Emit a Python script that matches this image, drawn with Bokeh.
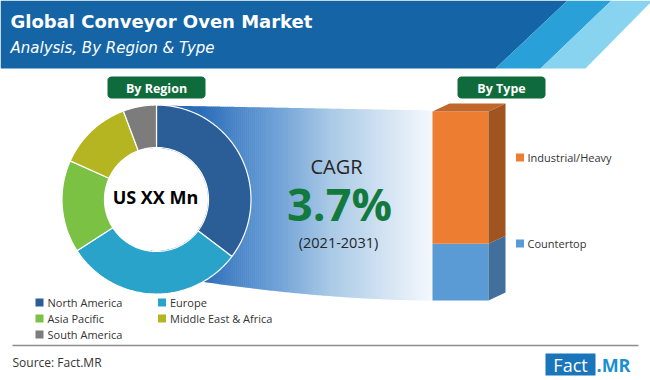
import numpy as np
from bokeh.plotting import figure
from bokeh.models import Range1d
from bokeh.core.properties import value
from bokeh.embed import file_html
from bokeh.resources import INLINE

# ---------------- data ----------------
TITLE = "Global Conveyor Oven Market"
SUBTITLE = "Analysis, By Region & Type"
CENTER_LABEL = "US XX Mn"
CAGR_LABEL = "CAGR"
CAGR_VALUE = "3.7%"
CAGR_PERIOD = "(2021-2031)"
SOURCE = "Source: Fact.MR"

regions = ["North America", "Europe", "Asia Pacific", "Middle East & Africa", "South America"]
region_share = [35.3, 30.6, 15.8, 12.6, 5.7]
region_colors = ["#2b5d97", "#29a3c9", "#7bc143", "#b5b521", "#7c7c7c"]

types = ["Countertop", "Industrial/Heavy"]
type_share = [30, 70]
type_front = ["#5b9bd5", "#ed7d31"]
type_side = ["#41709c", "#a0541f"]
type_top = ["#4a84ba", "#c0672c"]

GREEN = "#0f6b3b"
FONT = "Open Sans"
HFONT = "DejaVu Sans"

# ---------------- figure ----------------
W, H = 650, 380
p = figure(width=W, height=H, x_range=Range1d(0, W), y_range=Range1d(H, 0),
           output_backend="svg", toolbar_location=None,
           x_axis_type=None, y_axis_type=None, min_border=0)
p.outline_line_color = None
p.background_fill_color = "white"
p.border_fill_color = "white"


def rounded_rect(x0, y0, x1, y1, r=4, n=6):
    xs, ys = [], []
    corners = [(x1 - r, y0 + r, -np.pi / 2, 0), (x1 - r, y1 - r, 0, np.pi / 2),
               (x0 + r, y1 - r, np.pi / 2, np.pi), (x0 + r, y0 + r, np.pi, 1.5 * np.pi)]
    for cx_, cy_, a0, a1 in corners:
        a = np.linspace(a0, a1, n)
        xs += list(cx_ + r * np.cos(a))
        ys += list(cy_ + r * np.sin(a))
    return xs, ys


# header band
p.patch([0, 567, 495, 0], [0, 0, 68, 68], color="#1565a6", line_width=0)
p.patch([567, 611, 540, 495], [0, 0, 68, 68], color="#2aa0d8", line_width=0)
p.patch([611, 652, 585, 540], [0, 0, 68, 68], color="#88d3f0", line_width=0)
p.text(x=[10], y=[21], text=[TITLE], text_font=value(HFONT), text_font_style="bold",
       text_font_size="18px", text_color="white", text_baseline="middle")
p.text(x=[10], y=[47], text=[SUBTITLE], text_font=value(HFONT), text_font_style="italic",
       text_font_size="15px", text_color="white", text_baseline="middle")

# funnel gradient (decorative)
xs_edges = np.linspace(150, 432, 141)
stops_x = [150, 200, 260, 330, 432]
stops_c = np.array([[40, 105, 180], [45, 110, 185], [95, 150, 210], [170, 202, 231], [246, 249, 253]])


def f_top(x):
    return 105 + 5 * (x - 157) / (432 - 157)


def f_bot(x):
    t = max((432 - x) / 232.0, 0)
    return 300 - 19 * t ** 1.8


fx, fy, fc = [], [], []
for a, b in zip(xs_edges[:-1], xs_edges[1:]):
    fx.append([a, b + 0.6, b + 0.6, a])
    fy.append([f_top(a), f_top(b), f_bot(b), f_bot(a)])
    m = (a + b) / 2
    c = [int(np.interp(m, stops_x, stops_c[:, k])) for k in range(3)]
    fc.append("#%02x%02x%02x" % tuple(c))
p.patches(fx, fy, fill_color=fc, line_color=None)

# donut
cx, cy, r_out, r_in = 156, 199, 94.5, 52
total = sum(region_share)
cum = np.cumsum([0] + region_share) / total * 2 * np.pi
dx, dy = [], []
for i in range(len(regions)):
    th = np.linspace(cum[i], cum[i + 1], 80)
    xo = cx + r_out * np.sin(th)
    yo = cy - r_out * np.cos(th)
    xi = cx + r_in * np.sin(th[::-1])
    yi = cy - r_in * np.cos(th[::-1])
    dx.append(list(xo) + list(xi))
    dy.append(list(yo) + list(yi))
p.patches(dx, dy, fill_color=region_colors, line_color="white", line_width=1.2)
th = np.linspace(0, 2 * np.pi, 120)
p.patch(cx + (r_in - 0.5) * np.sin(th), cy - (r_in - 0.5) * np.cos(th), color="white", line_width=0)
p.text(x=[cx - 1], y=[196.5], text=[CENTER_LABEL], text_font=value(FONT), text_font_style="bold",
       text_font_size="18px", text_color="black", text_align="center", text_baseline="middle")

# section tags
for (x0, x1, lab) in [(107, 205, "By Region"), (457, 545, "By Type")]:
    rx, ry = rounded_rect(x0, 76, x1, 98, r=4)
    p.patch(rx, ry, color=GREEN, line_width=0)
    p.text(x=[(x0 + x1) / 2], y=[87.5], text=[lab], text_font=value(FONT), text_font_style="bold",
           text_font_size="12.5px", text_color="white", text_align="center", text_baseline="middle")

# CAGR text
p.text(x=[336], y=[166], text=[CAGR_LABEL], text_font=value(FONT), text_font_size="20px",
       text_color="#262626", text_align="center", text_baseline="middle")
p.text(x=[339], y=[203], text=[CAGR_VALUE], text_font=value(FONT), text_font_style="bold",
       text_font_size="45px", text_color="#137a3d", text_align="center", text_baseline="middle")
p.text(x=[338], y=[242], text=[CAGR_PERIOD], text_font=value(FONT), text_font_size="14.5px",
       text_color="#262626", text_align="center", text_baseline="middle")

# 3D stacked bar
bx0, bx1, base, px_per = 432, 488, 300, 189 / sum(type_share)
ddx, ddy = 17, -8
y_low = base
for i, t in enumerate(types):
    y_high = y_low - type_share[i] * px_per
    p.quad(left=[bx0], right=[bx1], bottom=[y_low], top=[y_high], color=type_front[i], line_width=0)
    p.patch([bx1, bx1 + ddx, bx1 + ddx, bx1], [y_low, y_low + ddy, y_high + ddy, y_high],
            color=type_side[i], line_width=0)
    y_low = y_high
p.patch([bx0, bx1, bx1 + ddx, bx0 + ddx], [y_low, y_low, y_low + ddy, y_low + ddy],
        color=type_top[-1], line_width=0)

# type legend
type_leg_y = [243, 157]
p.rect(x=[519.5] * 2, y=type_leg_y, width=8, height=8, color=type_front, line_width=0)
p.text(x=[527] * 2, y=type_leg_y, text=types, text_font=value(FONT), text_font_size="11px",
       text_color="#333333", text_baseline="middle")

# region legend
leg_x = [39, 161.5, 39, 161.5, 39]
leg_y = [302, 302, 318, 318, 334]
p.rect(x=leg_x, y=leg_y, width=8, height=8, color=region_colors, line_width=0)
p.text(x=[x + 8 for x in leg_x], y=leg_y, text=regions, text_font=value(FONT),
       text_font_size="11px", text_color="#333333", text_baseline="middle")

# footer
p.line([12, 638], [345, 345], line_color="#8c8c8c", line_width=1.5)
p.text(x=[12], y=[362], text=[SOURCE], text_font=value(FONT), text_font_size="12px",
       text_color="#333333", text_baseline="middle")
p.quad(left=[545], right=[595], top=[353], bottom=[375], color="#1a75bb", line_width=0)
p.text(x=[570], y=[364], text=["Fact"], text_font=value(FONT), text_font_size="18px",
       text_color="white", text_align="center", text_baseline="middle")
p.text(x=[596], y=[364], text=[".MR"], text_font=value(FONT), text_font_style="bold",
       text_font_size="18px", text_color="#1b8fd2", text_baseline="middle")

open("out.html", "w").write(file_html(p, INLINE))
